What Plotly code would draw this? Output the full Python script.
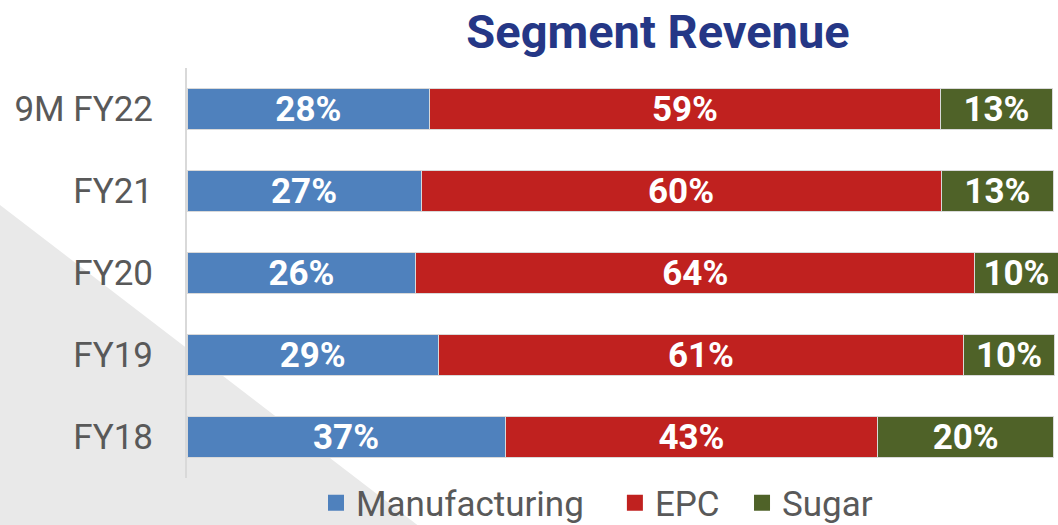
import plotly.graph_objects as go

periods = ["9M FY22", "FY21", "FY20", "FY19", "FY18"]
manufacturing = [28.0, 27.0, 26.4, 29.0, 36.7]
epc = [58.9, 60.0, 64.5, 60.6, 43.0]
sugar = [13.0, 13.0, 9.6, 10.5, 20.3]
manufacturing_labels = ["28%", "27%", "26%", "29%", "37%"]
epc_labels = ["59%", "60%", "64%", "61%", "43%"]
sugar_labels = ["13%", "13%", "10%", "10%", "20%"]

series = [
    ("Manufacturing", manufacturing, manufacturing_labels, "#4f81bd"),
    ("EPC", epc, epc_labels, "#c0211f"),
    ("Sugar", sugar, sugar_labels, "#4f6228"),
]
# extra (non-breaking) space after legend entries, to widen the gaps
legend_pad = {"Manufacturing": 3, "EPC": 2, "Sugar": 0}

fig = go.Figure()
for name, vals, labels, color in series:
    fig.add_trace(go.Bar(
        y=periods,
        x=vals,
        name=name,
        orientation="h",
        text=labels,
        textposition="inside",
        insidetextanchor="middle",
        textangle=0,
        constraintext="none",
        textfont=dict(family="Roboto", size=35, color="white", weight="bold"),
        marker=dict(color=color, line=dict(color="#d9d9d9", width=1)),
        width=0.49,
        showlegend=False,
        hoverinfo="skip",
    ))
    # legend entry with a bigger square swatch
    fig.add_trace(go.Scatter(
        x=[None], y=[None],
        mode="markers",
        name=name + "\u00a0" * legend_pad[name],
        marker=dict(symbol="square", size=20, color=color),
        showlegend=True,
    ))

# plot area in px: left 187, right 1058, top 68, bottom 478
def px_x(px):
    return (px - 187) / 871.0


def px_y(py):
    return (478 - py) / 410.0


fig.add_shape(
    type="path",
    xref="paper", yref="paper",
    path="M {0},{1} L {2},{3} L {0},{3} Z".format(px_x(0), px_y(205), px_x(420), px_y(527)),
    fillcolor="#e9e9e9",
    line=dict(width=0),
    layer="below",
)

fig.update_layout(
    width=1058,
    height=525,
    barmode="stack",
    paper_bgcolor="white",
    plot_bgcolor="rgba(0,0,0,0)",
    font=dict(family="Roboto", color="#595959"),
    margin=dict(l=187, r=0, t=68, b=47, pad=0, autoexpand=False),
    title=dict(
        text="<b>Segment Revenue</b>",
        x=658 / 1058, xanchor="center", xref="container",
        y=1 - 32 / 525, yanchor="middle", yref="container",
        font=dict(family="Roboto", size=47, color="#253786"),
        automargin=False,
    ),
    xaxis=dict(
        range=[0, 100.5],
        showgrid=False,
        zeroline=False,
        showticklabels=False,
        fixedrange=True,
        automargin=False,
    ),
    yaxis=dict(
        autorange="reversed",
        showgrid=False,
        showline=True,
        linecolor="#d9d9d9",
        linewidth=2,
        ticks="",
        ticklabelstandoff=25,
        tickfont=dict(family="Roboto", size=35, color="#595959"),
        automargin=False,
        fixedrange=True,
    ),
    showlegend=True,
    legend=dict(
        orientation="h",
        x=px_x(597), xanchor="center",
        y=px_y(503), yanchor="middle",
        font=dict(family="Roboto", size=35, color="#595959"),
        bgcolor="rgba(0,0,0,0)",
        traceorder="normal",
        itemsizing="trace",
        itemclick=False,
    ),
)

fig.write_html("out.html", config={"displayModeBar": False},
               post_script="document.body.style.margin = '0';")
